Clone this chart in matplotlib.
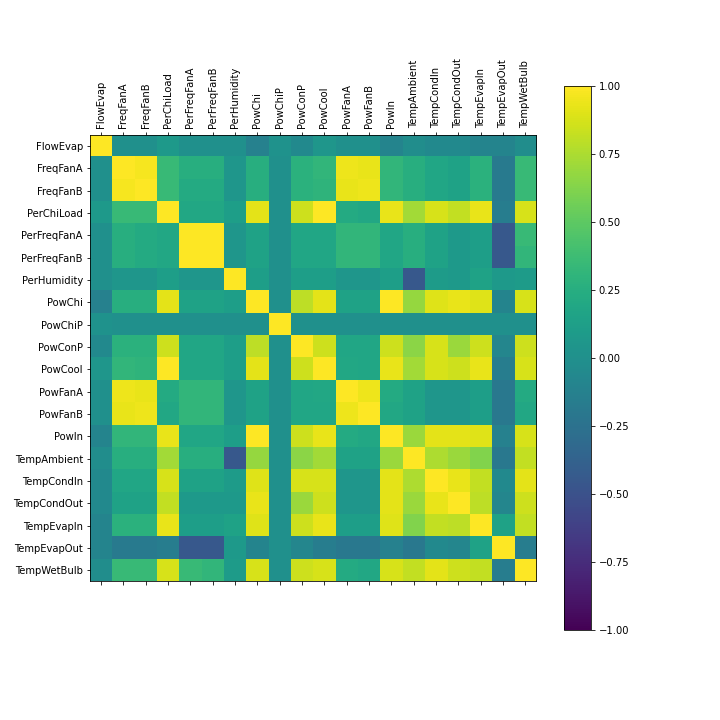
import numpy as np
import matplotlib
matplotlib.use('Agg')
import matplotlib.pyplot as plt

names = [
    'FlowEvap', 'FreqFanA', 'FreqFanB', 'PerChiLoad', 'PerFreqFanA',
    'PerFreqFanB', 'PerHumidity', 'PowChi', 'PowChiP', 'PowConP', 'PowCool',
    'PowFanA', 'PowFanB', 'PowIn', 'TempAmbient', 'TempCondIn',
    'TempCondOut', 'TempEvapIn', 'TempEvapOut', 'TempWetBulb'
]

# 相关系数矩阵的下三角
lower = [
    [1.00],
    [0.00, 1.00],
    [0.00, 0.97, 1.00],
    [0.08, 0.35, 0.35, 1.00],
    [0.00, 0.25, 0.22, 0.20, 1.00],
    [0.00, 0.25, 0.22, 0.20, 1.00, 1.00],
    [0.00, 0.05, 0.05, 0.12, 0.05, 0.05, 1.00],
    [-0.12, 0.25, 0.25, 0.92, 0.15, 0.15, 0.12, 1.00],
    [0.02, 0.00, 0.00, 0.00, 0.00, 0.00, 0.00, 0.00, 1.00],
    [-0.05, 0.28, 0.28, 0.85, 0.18, 0.18, 0.12, 0.80, 0.00, 1.00],
    [0.05, 0.32, 0.30, 1.00, 0.18, 0.18, 0.12, 0.92, 0.00, 0.85, 1.00],
    [0.00, 0.95, 0.93, 0.22, 0.32, 0.32, 0.05, 0.15, 0.00, 0.18, 0.20, 1.00],
    [0.00, 0.93, 0.95, 0.20, 0.32, 0.32, 0.05, 0.15, 0.00, 0.18, 0.18, 0.95,
     1.00],
    [-0.10, 0.32, 0.32, 0.93, 0.18, 0.18, 0.12, 1.00, 0.00, 0.85, 0.93, 0.22,
     0.20, 1.00],
    [-0.02, 0.25, 0.25, 0.72, 0.25, 0.25, -0.45, 0.68, 0.00, 0.65, 0.72, 0.15,
     0.15, 0.70, 1.00],
    [-0.05, 0.18, 0.18, 0.88, 0.15, 0.15, 0.10, 0.90, 0.00, 0.88, 0.88, 0.05,
     0.05, 0.92, 0.75, 1.00],
    [-0.05, 0.15, 0.15, 0.82, 0.08, 0.08, 0.08, 0.93, 0.00, 0.70, 0.85, 0.05,
     0.05, 0.92, 0.70, 0.93, 1.00],
    [-0.10, 0.28, 0.28, 0.93, 0.12, 0.12, 0.15, 0.90, 0.00, 0.85, 0.93, 0.12,
     0.12, 0.90, 0.62, 0.82, 0.80, 1.00],
    [-0.10, -0.18, -0.18, -0.15, -0.45, -0.45, 0.08, -0.10, 0.00, -0.08, -0.15,
     -0.20, -0.20, -0.12, -0.20, -0.05, -0.08, 0.15, 1.00],
    [-0.02, 0.35, 0.35, 0.88, 0.35, 0.32, 0.10, 0.88, 0.00, 0.85, 0.88, 0.22,
     0.20, 0.88, 0.82, 0.92, 0.85, 0.82, -0.15, 1.00],
]

n = len(names)
corr = np.zeros((n, n))
for i, row in enumerate(lower):
    for j, v in enumerate(row):
        corr[i, j] = v
        corr[j, i] = v

fig = plt.figure(figsize=(10, 10), dpi=72)
fig.subplots_adjust(bottom=0.125)
ax = fig.add_subplot(111)
cax = ax.matshow(corr, vmin=-1, vmax=1)
fig.colorbar(cax)
ticks = np.arange(0, n, 1)
ax.set_xticks(ticks)
ax.set_yticks(ticks)
ax.set_xticklabels(names, rotation=90)
ax.set_yticklabels(names)
fig.savefig('out.png', dpi=72)
